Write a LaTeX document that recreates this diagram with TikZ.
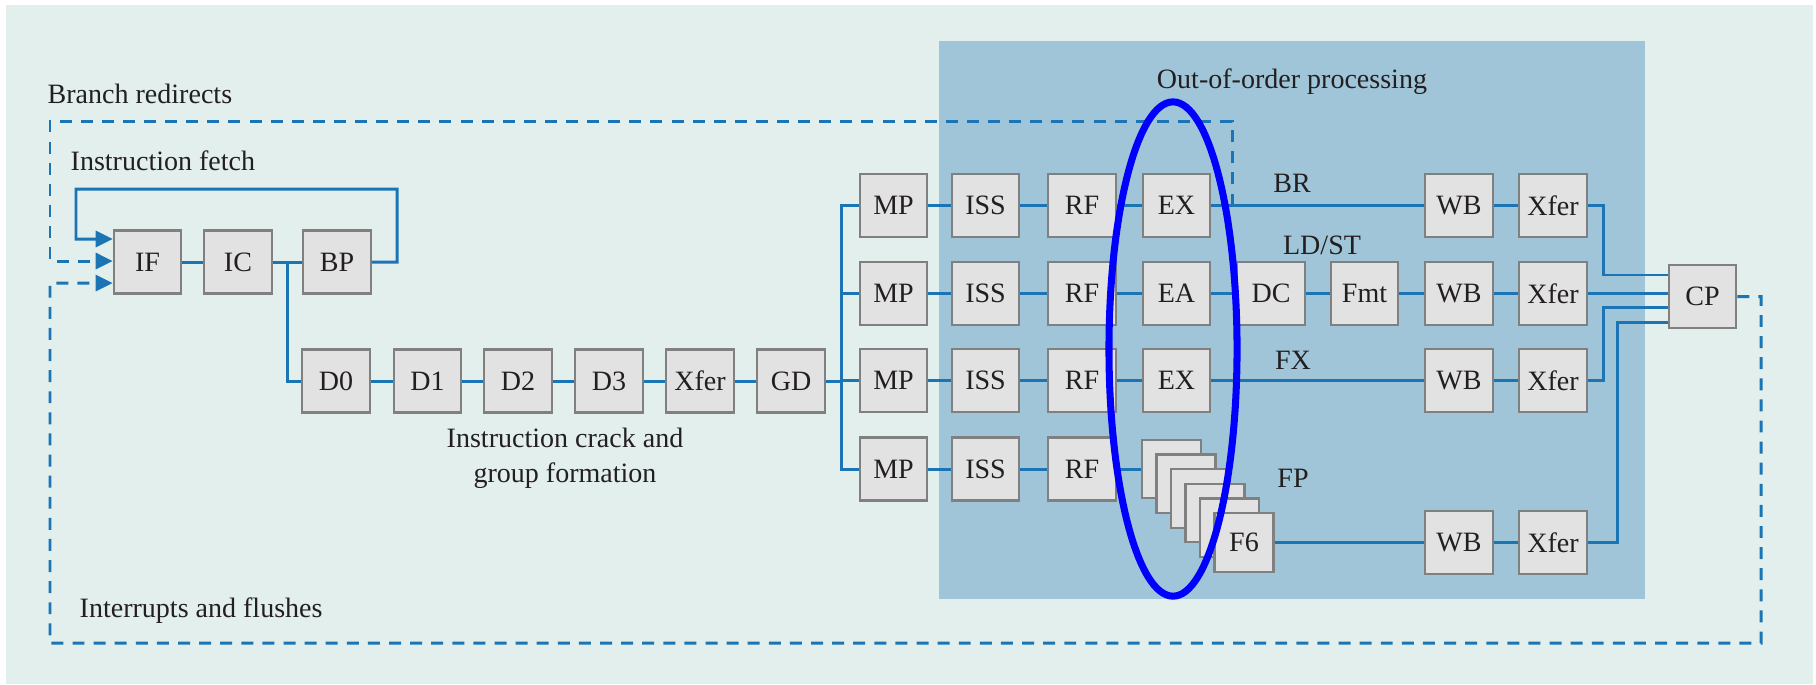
\documentclass[tikz,border=0pt]{standalone}
\usepackage{fontspec}
\setmainfont{LiberationSerif}[Extension=.ttf, UprightFont=*-Regular, BoldFont=*-Bold]
\usetikzlibrary{arrows.meta,calc}

\definecolor{bgteal}{HTML}{E3EFED}
\definecolor{oooblue}{HTML}{A0C5D8}
\definecolor{wireblue}{HTML}{1B75B5}
\definecolor{boxgray}{HTML}{E2E2E2}
\definecolor{edgegray}{HTML}{808080}
\definecolor{inkdark}{HTML}{231F20}

\tikzset{
  stage/.style={draw=edgegray, line width=0.6pt, fill=boxgray, minimum width=0.675cm, minimum height=0.63cm, inner sep=0pt, text=inkdark},
  fpstage/.style={stage, minimum width=0.59cm, minimum height=0.585cm},
  wire/.style={draw=wireblue, line width=0.85pt},
  redirect/.style={wire, dash pattern=on 3.4pt off 2.6pt},
  tip/.style={-{Triangle[length=0.17cm,width=0.16cm]}},
  lbl/.style={text=inkdark, inner sep=0pt},
}

\begin{document}
\begin{tikzpicture}[x=0.01cm, y=-0.01cm, font=\rmfamily\fontsize{7.97pt}{9.9pt}\selectfont]
			%%%%% BACKGROUND %%%%%
			\useasboundingbox (0,0) rectangle (1816,684);
			\fill[white] (0,0) rectangle (1816,684);
			\fill[bgteal] (6,5) rectangle (1813,684);
			\fill[oooblue] (939,41) rectangle (1645,599);
			
			%%%%% FETCH %%%%%
			\node[stage] (if) at (147.5,262) {IF};
			\node[stage] (ic) at (238,262) {IC};
			\node[stage] (bp) at (337,262) {BP};
			\draw[wire] (if) -- (ic) -- (bp);
			\draw[wire,tip] (bp.east) -| (397,189) -| (76,239) -- ([yshift=0.23cm]if.west);
			
			%%%%% CRACK %%%%%
			\node[stage] (d0) at (336,381) {D0};
			\node[stage] (d1) at (427.5,381) {D1};
			\node[stage] (d2) at (518,381) {D2};
			\node[stage] (d3) at (609,381) {D3};
			\node[stage] (xf0) at (700,381) {Xfer};
			\node[stage] (gd) at (791,381) {GD};
			\draw[wire] ($(ic.east)!0.5!(bp.west)$) |- (d0);
			\draw[wire] (d0) -- (d1) -- (d2) -- (d3) -- (xf0) -- (gd);
			
			%%%%% ISSUE %%%%%
			\foreach \r/\y in {1/205.5,2/293.5,3/380.5,4/469} {
				\node[stage] (mp\r) at (893.5,\y) {MP};
				\node[stage] (iss\r) at (985.5,\y) {ISS};
				\node[stage] (rf\r) at (1082,\y) {RF};
				\draw[wire] (mp\r) -- (iss\r) -- (rf\r);
			}
			\draw[wire] (gd) -- (gd -| 842,0);
			\draw[wire] (mp1.west) -- ++(-17.5,0) |- (mp4.west);
			\draw[wire] (mp2.west) -- ++(-17.5,0);
			\draw[wire] (mp3.west) -- ++(-17.5,0);
			
			%%%%% EXECUTE %%%%%
			\node[stage] (ex1) at (1176.5,205.5) {EX};
			\node[stage] (ea) at (1176.5,293.5) {EA};
			\node[stage] (ex3) at (1176.5,380.5) {EX};
			\node[stage] (dc) at (1271,293.5) {DC};
			\node[stage] (fmt) at (1364.5,293.5) {Fmt};
			\foreach \k in {1,...,5}
				\node[fpstage] (fp\k) at ({1171.5+14.5*(\k-1)},{469+14.7*(\k-1)}) {};
			\node[fpstage] (fp6) at (1244,542.5) {F6};
			\draw[wire] (rf1) -- (ex1);
			\draw[wire] (rf2) -- (ea);
			\draw[wire] (rf3) -- (ex3);
			\draw[wire] (rf4) -- (fp1);
			
			\foreach \r/\y in {1/205.5,2/293.5,3/380.5,4/542.5} {
				\node[stage] (wb\r) at (1459,\y) {WB};
				\node[stage] (xf\r) at (1553,\y) {Xfer};
				\draw[wire] (wb\r) -- (xf\r);
			}
			\draw[wire] (ex1) -- (wb1);
			\draw[wire] (ea) -- (dc) -- (fmt) -- (wb2);
			\draw[wire] (ex3) -- (wb3);
			\draw[wire] (fp6) -- (wb4);
			
			%%%%% COMPLETION %%%%%
			\node[stage] (cp) at (1702.5,296.5) {CP};
			\draw[wire] (xf1.east) -- ++(16,0) |- ([yshift=0.215cm]cp.west);
			\draw[wire] (xf2.east) -- (xf2.east -| cp.west);
			\draw[wire] (xf3.east) -- ++(16,0) |- ([yshift=-0.105cm]cp.west);
			\draw[wire] (xf4.east) -- ++(30,0) |- ([yshift=-0.255cm]cp.west);
			
			%%%%% REDIRECTS %%%%%
			\coordinate (brtap) at (1232,205.5);
			\draw[redirect,tip] (brtap) |- (50,121) |- ([yshift=0.01cm]if.west);
			\draw[redirect,tip] (cp.east) -| (1761,643) -| (50,283) -- ([yshift=-0.21cm]if.west);
			
			%%%%% LABELS %%%%%
			\node[lbl, anchor=base west] (branchlbl) at (47,103) {Branch redirects};
			\node[lbl, anchor=base west] (fetchlbl) at (70,170) {Instruction fetch};
			\node[lbl, anchor=base west] (flushlbl) at (79,617) {Interrupts and flushes};
			\node[lbl, anchor=base] (cracklbl) at (565,447) {Instruction crack and};
			\node[lbl, anchor=base] (grouplbl) at (565,482) {group formation};
			\node[lbl, anchor=base] (ooolbl) at (1292,88) {Out-of-order processing};
			\node[lbl, anchor=base] (brlbl) at (1292,192) {BR};
			\node[lbl, anchor=base] (ldstlbl) at (1322,254) {LD/ST};
			\node[lbl, anchor=base] (fxlbl) at (1293,369) {FX};
			\node[lbl, anchor=base] (fplbl) at (1293,487) {FP};
			
			\draw[blue, line width=2pt] (1173,349) ellipse [x radius=0.64cm, y radius=2.47cm];
			
			%%%%% END %%%%%
\end{tikzpicture}
\end{document}
